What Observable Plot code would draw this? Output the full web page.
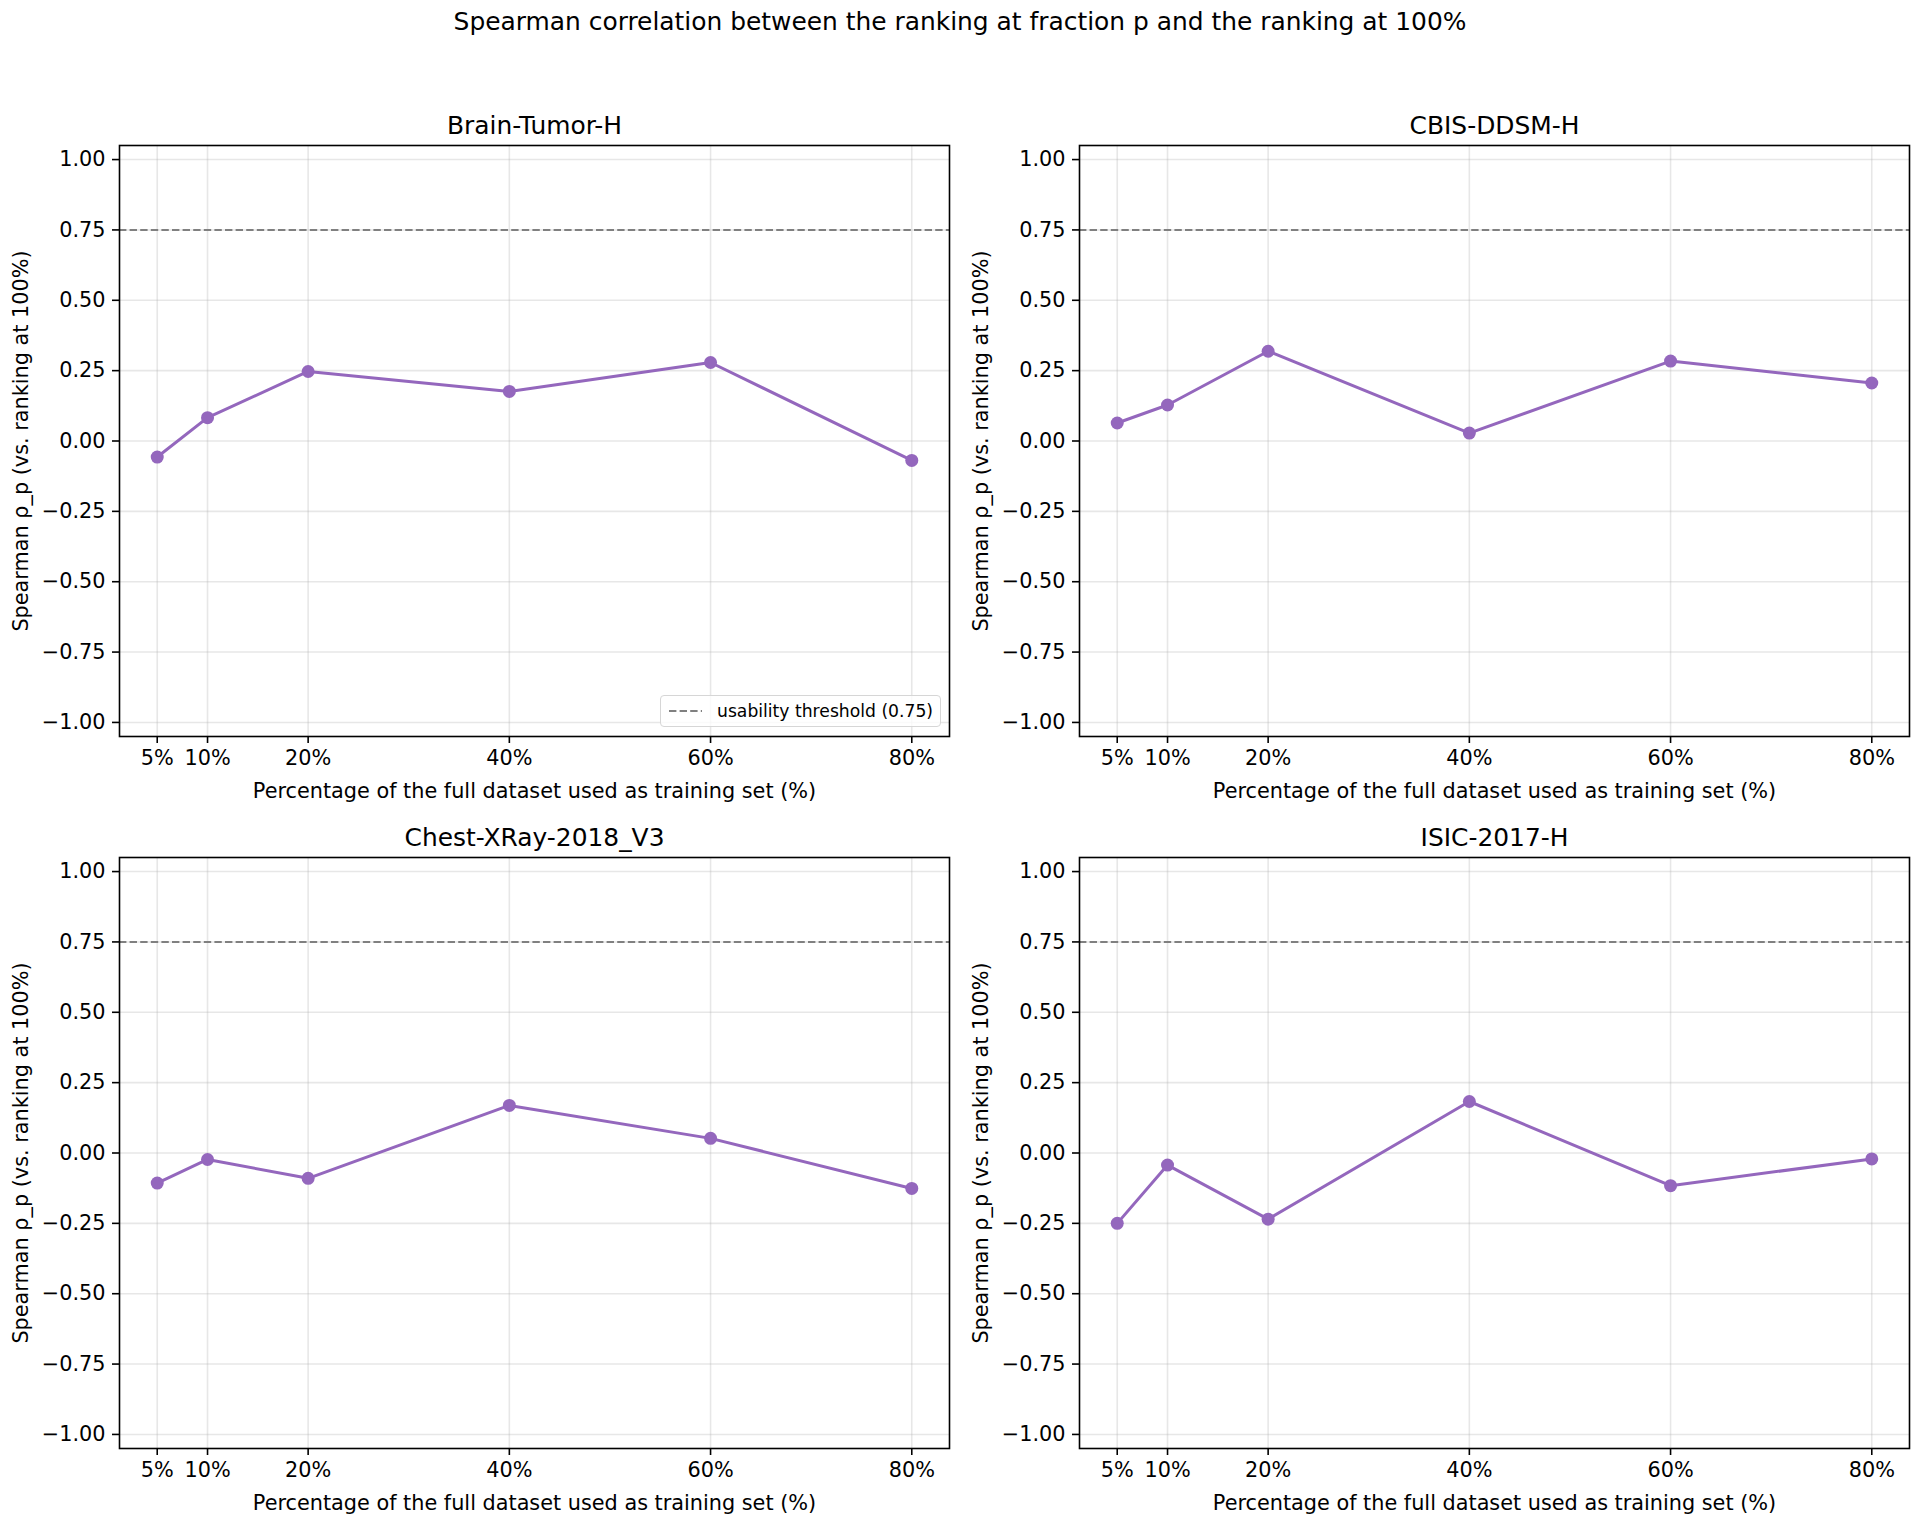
<!DOCTYPE html>
<html>
<head>
<meta charset="utf-8">
<script src="https://cdn.jsdelivr.net/npm/d3@7"></script>
<script src="https://cdn.jsdelivr.net/npm/@observablehq/plot@0.6"></script>
<style>
  html, body { margin: 0; padding: 0; background: white; }
  #root { position: relative; width: 1920px; height: 1521px; background: white; font-family: "DejaVu Sans", sans-serif; }
  .panel { position: absolute; }
  .panel svg { display: block; max-width: none; }
  #suptitle { position: absolute; left: 0; top: 9px; width: 1920px; text-align: center; font-size: 24.9px; line-height: 25px; color: #000; }
  #legend { position: absolute; box-sizing: border-box; background: rgba(255,255,255,0.8); border: 1.5px solid #d6d6d6; border-radius: 4px; display: flex; align-items: center; font-size: 17.2px; color: #000; }
</style>
</head>
<body>
<div id="root"></div>
<script>
// ---------------- data ----------------
const suptitle = "Spearman correlation between the ranking at fraction p and the ranking at 100%";
const panelTitles = ["Brain-Tumor-H", "CBIS-DDSM-H", "Chest-XRay-2018_V3", "ISIC-2017-H"];
const fractions = [5, 10, 20, 40, 60, 80];
const brainTumor = [-0.057, 0.083, 0.247, 0.176, 0.279, -0.069];
const cbisDdsm   = [0.064, 0.128, 0.319, 0.028, 0.284, 0.206];
const chestXray  = [-0.107, -0.023, -0.090, 0.169, 0.052, -0.126];
const isic2017   = [-0.250, -0.043, -0.235, 0.183, -0.116, -0.021];
const threshold = [0.75];
const legendLabel = "usability threshold (0.75)";
const xTicks = [5, 10, 20, 40, 60, 80];
const yTicks = [-1, -0.75, -0.5, -0.25, 0, 0.25, 0.5, 0.75, 1];
const xLabel = "Percentage of the full dataset used as training set (%)";
const yLabel = "Spearman ρ_p (vs. ranking at 100%)";

const seriesList = [brainTumor, cbisDdsm, chestXray, isic2017];
const purple = "#9467bd";

const root = document.getElementById("root");
const st = document.createElement("div");
st.id = "suptitle";
st.textContent = suptitle;
root.appendChild(st);

// layout: top row svg 0..812, bottom row svg 812..1521
const rows = [
  {top: 0, height: 812, marginTop: 145, marginBottom: 76},
  {top: 812, height: 709, marginTop: 45, marginBottom: 73}
];

function makePanel(i) {
  const row = rows[Math.floor(i / 2)];
  const col = i % 2;
  const data = fractions.map((f, k) => ({fraction: f, rho: seriesList[i][k]}));
  const chart = Plot.plot({
    width: 960,
    height: row.height,
    marginLeft: 119,
    marginRight: 11,
    marginTop: row.marginTop,
    marginBottom: row.marginBottom,
    style: {fontFamily: "DejaVu Sans", fontSize: "20.8px", background: "transparent", color: "black"},
    x: {domain: [1.25, 83.75], ticks: xTicks, tickFormat: d => d + "%", tickSize: 7, tickPadding: 7,
        label: xLabel, labelAnchor: "center", labelOffset: 61, labelArrow: "none"},
    y: {domain: [-1.05, 1.05], ticks: yTicks, tickFormat: d3.format(".2f"), tickSize: 7, tickPadding: 7,
        label: yLabel, labelAnchor: "center", labelOffset: 106, labelArrow: "none"},
    marks: [
      Plot.gridX(xTicks, {stroke: "#b0b0b0", strokeOpacity: 0.3, strokeWidth: 1.6}),
      Plot.gridY(yTicks, {stroke: "#b0b0b0", strokeOpacity: 0.3, strokeWidth: 1.6}),
      Plot.ruleY(threshold, {stroke: "#808080", strokeWidth: 2, strokeDasharray: "7.4,3.2"}),
      Plot.line(data, {x: "fraction", y: "rho", stroke: purple, strokeWidth: 3}),
      Plot.dot(data, {x: "fraction", y: "rho", r: 6.5, fill: purple, stroke: "none"}),
      Plot.axisX({ticks: xTicks, tickFormat: d => d + "%", tickSize: 7, tickPadding: 7, strokeWidth: 1.6,
        label: xLabel, labelAnchor: "center", labelOffset: 61, labelArrow: "none"}),
      Plot.axisY({ticks: yTicks, tickFormat: d3.format(".2f"), tickSize: 7, tickPadding: 7, strokeWidth: 1.6,
        label: yLabel, labelAnchor: "center", labelOffset: 106, labelArrow: "none"}),
      Plot.frame({stroke: "black", strokeWidth: 1.6}),
      Plot.text([panelTitles[i]], {frameAnchor: "top", dy: -12, lineAnchor: "bottom", fontSize: 24.9, fill: "black"})
    ]
  });
  const wrap = document.createElement("div");
  wrap.className = "panel";
  wrap.style.left = (col * 960) + "px";
  wrap.style.top = row.top + "px";
  wrap.appendChild(chart);
  root.appendChild(wrap);
}
for (let i = 0; i < 4; i++) makePanel(i);

// legend (top-left panel, lower right corner)
const lg = document.createElement("div");
lg.id = "legend";
lg.style.left = "660px";
lg.style.top = "695px";
lg.style.width = "281px";
lg.style.height = "32px";
lg.innerHTML = `<svg width="56" height="20" style="flex:none"><line x1="8" x2="41" y1="10" y2="10" stroke="#808080" stroke-width="2" stroke-dasharray="7.4,3.2"/></svg><span style="white-space:nowrap">${legendLabel}</span>`;
root.appendChild(lg);
</script>
</body>
</html>
